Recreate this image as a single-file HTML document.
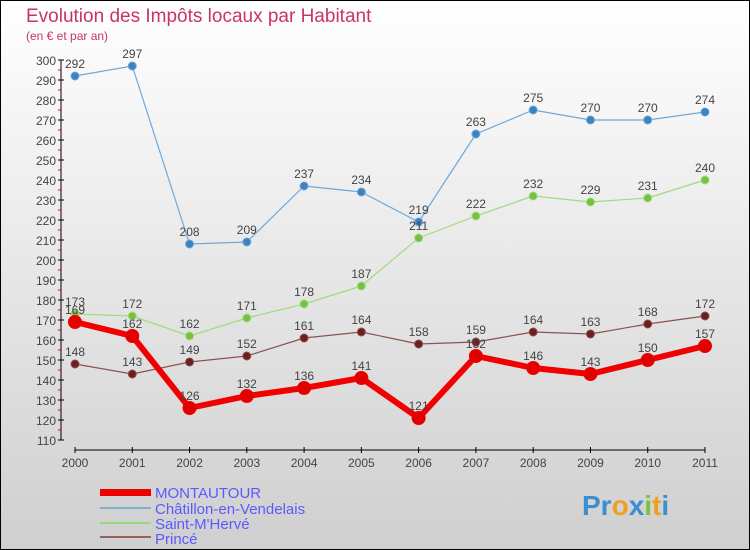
<!DOCTYPE html>
<html><head><meta charset="utf-8"><style>
body{margin:0}
#c{width:750px;height:550px;position:relative;overflow:hidden;}
text{font-family:"Liberation Sans",sans-serif}
</style></head><body>
<div id="c">
<svg id="s" width="750" height="550" xmlns="http://www.w3.org/2000/svg">
<defs><linearGradient id="bg" x1="0" y1="0" x2="0" y2="1"><stop offset="0" stop-color="#ffffff"/><stop offset="1" stop-color="#cfcfcf"/></linearGradient></defs>
<rect x="0.5" y="0.5" width="749" height="549" fill="url(#bg)" stroke="#000"/>
<text x="26" y="22" font-size="19" fill="#c8346a">Evolution des Impôts locaux par Habitant</text>
<text x="26" y="40" font-size="12" fill="#c8346a">(en € et par an)</text>
<g id="axes"></g><g id="series"></g>
<g>
<rect x="100" y="489" width="51" height="7" fill="#e00"/>
<text x="155" y="498" font-size="15" fill="#5a5aff">MONTAUTOUR</text>
<rect x="100" y="507" width="51" height="2" fill="#80b0d0"/>
<text x="155" y="514" font-size="15" fill="#5a5aff">Châtillon-en-Vendelais</text>
<rect x="100" y="522" width="51" height="2" fill="#98d878"/>
<text x="155" y="529" font-size="15" fill="#5a5aff">Saint-M'Hervé</text>
<rect x="100" y="536" width="51" height="2" fill="#986060"/>
<text x="155" y="544" font-size="15" fill="#5a5aff">Princé</text>
</g>
<g font-size="28" font-weight="bold">
<text x="582" y="515"><tspan fill="#3a8fd0">Pr</tspan><tspan fill="#f0a020">o</tspan><tspan fill="#3a8fd0">x</tspan><tspan fill="#80c040">i</tspan><tspan fill="#f0a020">t</tspan><tspan fill="#3a8fd0">i</tspan></text>
</g>
</svg></div>
<script>
const years=[2000,2001,2002,2003,2004,2005,2006,2007,2008,2009,2010,2011];
const montautour=[169,162,126,132,136,141,121,152,146,143,150,157];
const chatillon=[292,297,208,209,237,234,219,263,275,270,270,274];
const saintMHerve=[173,172,162,171,178,187,211,222,232,229,231,240];
const prince=[148,143,149,152,161,164,158,159,164,163,168,172];
const yTicks=[110,120,130,140,150,160,170,180,190,200,210,220,230,240,250,260,270,280,290,300];
const NS="http://www.w3.org/2000/svg";
const X=i=>75+i*(630/11);
const Y=v=>60+(300-v)*2;
function mk(t,a,p){const e=document.createElementNS(NS,t);for(const k in a)e.setAttribute(k,a[k]);p.appendChild(e);return e;}
const ax=document.getElementById('axes');
let l=mk('line',{x1:61,y1:60,x2:61,y2:440,stroke:'#000'},ax);


l=mk('line',{x1:75,y1:450,x2:705,y2:450,stroke:'#000'},ax);


yTicks.forEach(v=>{
 mk('line',{x1:58,y1:Y(v),x2:64,y2:Y(v),stroke:'#000'},ax);
 if(v<300)mk('line',{x1:58,y1:Y(v+5),x2:61,y2:Y(v+5),stroke:'#e00'},ax);
 const t=mk('text',{x:56,y:Y(v)+5,'font-size':12,fill:'#444','text-anchor':'end'},ax);
 t.textContent=v;
 
 
});
years.forEach((y,i)=>{
 mk('line',{x1:X(i),y1:447,x2:X(i),y2:453,stroke:'#000'},ax);
 const t=mk('text',{x:X(i),y:467,'font-size':12,fill:'#444','text-anchor':'middle'},ax);
 t.textContent=y;
 
 
});
const sg=document.getElementById('series');
function draw(vals,color,dot,w,r,name,labelCol){
 const g=mk('g',{},sg);
 
 
 mk('polyline',{points:vals.map((v,i)=>X(i)+','+Y(v)).join(' '),fill:'none',stroke:color,'stroke-width':w,'stroke-linejoin':'round'},g);
 vals.forEach((v,i)=>{
  const c=mk('circle',{cx:X(i),cy:Y(v),r:r,fill:dot,stroke:color,'stroke-width':1},g);
  
  
  const t=mk('text',{x:X(i),y:Y(v)-8,'font-size':12,fill:'#444','text-anchor':'middle'},g);
  t.textContent=v;
  
  
 });
}
draw(chatillon,'#70a8d8','#3a82c0',1.2,4,'chatillon');
draw(saintMHerve,'#a0dc80','#78c040',1.2,4,'saint-m-herve');
draw(prince,'#905050','#6a2020',1.2,4,'prince');
draw(montautour,'#f00000','#e00000',6,6.5,'montautour');
</script>
</body></html>
